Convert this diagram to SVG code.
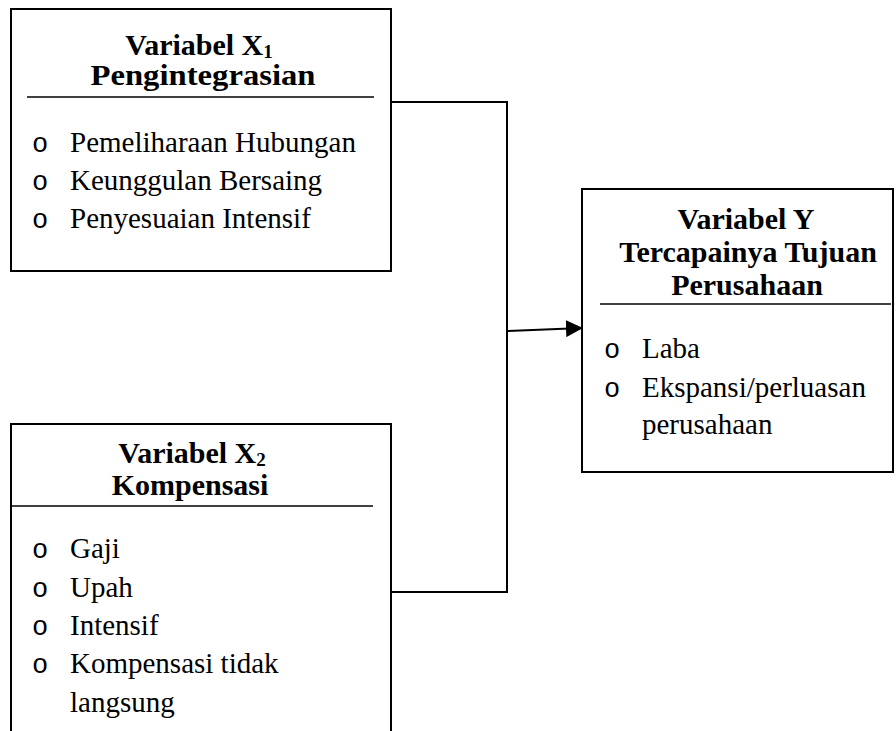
<svg xmlns="http://www.w3.org/2000/svg" width="896" height="731" viewBox="0 0 896 731">
<style>
.box{fill:#fff;stroke:#000;stroke-width:2}
.sep{stroke:#000;stroke-width:1.3}
.t{font-family:"Liberation Serif","Times New Roman",serif;font-weight:bold;font-size:30px;text-anchor:middle;fill:#000}
.b{font-family:"Liberation Serif","Times New Roman",serif;font-size:29px;fill:#000}
.o{font-family:"Liberation Mono","Courier New",monospace;font-size:27px;fill:#000}
.sub{font-size:19px}
.c{fill:none;stroke:#000;stroke-width:2}
</style>
<defs>
<marker id="arr" markerWidth="17" markerHeight="17" refX="16" refY="8.5" orient="auto" markerUnits="userSpaceOnUse">
<path d="M0,0 L17,8.5 L0,17 Z" fill="#000"/>
</marker>
</defs>
<g id="connectors">
<polyline class="c" points="391,102 507,102 507,592 391,592"/>
<line class="c" x1="507" y1="331" x2="582" y2="328" marker-end="url(#arr)"/>
</g>
<g id="x1">
<rect class="box" x="11" y="9" width="380" height="262"/>
<text class="t" x="199" y="55">Variabel X<tspan class="sub" dy="3">1</tspan></text>
<text class="t" x="203" y="85" textLength="225" lengthAdjust="spacingAndGlyphs">Pengintegrasian</text>
<line class="sep" x1="27" y1="97" x2="374" y2="97"/>
<text class="o" x="32" y="152">o</text><text class="b" x="70" y="152">Pemeliharaan Hubungan</text>
<text class="o" x="32" y="190">o</text><text class="b" x="70" y="190">Keunggulan Bersaing</text>
<text class="o" x="32" y="228">o</text><text class="b" x="70" y="228">Penyesuaian Intensif</text>
</g>
<g id="x2">
<rect class="box" x="11" y="424" width="380" height="320"/>
<text class="t" x="192" y="463">Variabel X<tspan class="sub" dy="3">2</tspan></text>
<text class="t" x="190" y="495">Kompensasi</text>
<line class="sep" x1="11" y1="506" x2="373" y2="506"/>
<text class="o" x="32" y="558">o</text><text class="b" x="70" y="558">Gaji</text>
<text class="o" x="32" y="597">o</text><text class="b" x="70" y="597">Upah</text>
<text class="o" x="32" y="635">o</text><text class="b" x="70" y="635">Intensif</text>
<text class="o" x="32" y="673">o</text><text class="b" x="70" y="673">Kompensasi tidak</text>
<text class="b" x="70" y="712">langsung</text>
</g>
<g id="y">
<rect class="box" x="582" y="189" width="311" height="283"/>
<text class="t" x="746" y="229">Variabel Y</text>
<text class="t" x="748" y="262">Tercapainya Tujuan</text>
<text class="t" x="747" y="295">Perusahaan</text>
<line class="sep" x1="600" y1="304" x2="891" y2="304"/>
<text class="o" x="604" y="358">o</text><text class="b" x="642" y="358">Laba</text>
<text class="o" x="604" y="397">o</text><text class="b" x="642" y="397">Ekspansi/perluasan</text>
<text class="b" x="642" y="434">perusahaan</text>
</g>
</svg>
